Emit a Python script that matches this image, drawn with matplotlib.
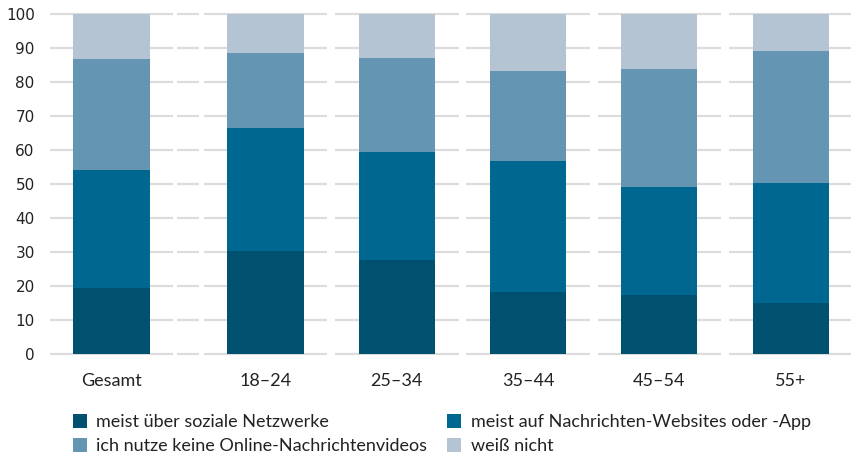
import numpy as np
import matplotlib.pyplot as plt
from matplotlib.patches import Patch

# Anteile in Prozent je Altersgruppe
categories = ['Gesamt', '18–24', '25–34', '35–44', '45–54', '55+']
soziale_netzwerke = [19.4, 30.3, 27.6, 18.1, 17.2, 14.9]
nachrichten_websites = [34.6, 36.1, 31.8, 38.6, 31.8, 35.3]
keine_videos = [32.7, 22.1, 27.6, 26.5, 34.8, 38.9]
weiss_nicht = [13.3, 11.5, 13.0, 16.8, 16.2, 10.9]

series = [soziale_netzwerke, nachrichten_websites, keine_videos, weiss_nicht]
labels = ['meist über soziale Netzwerke',
          'meist auf Nachrichten-Websites oder -App',
          'ich nutze keine Online-Nachrichtenvideos',
          'weiß nicht']
colors = ['#00516f', '#006890', '#6495b3', '#b4c4d2']

# Gesamt steht etwas abgesetzt von den Altersgruppen
spacer = 0.173
x = np.arange(len(categories)) + np.where(np.arange(len(categories)) > 0, spacer, 0)
bar_w = 0.58
gap = 0.06

fig = plt.figure(figsize=(8.51, 4.58), dpi=100)
ax = fig.add_axes([50 / 851, 1 - 353.5 / 458, 801 / 851, (353.5 - 14) / 458])

# Gitterlinien abschnittsweise pro Kategorie
segments = [(xi - 0.5 + gap / 2, xi + 0.5 - gap / 2) for xi in x]
segments.append((0.5 + gap / 2 - 0.03, 0.5 + spacer - gap / 2 + 0.03 - 0.005))
for y in range(0, 101, 10):
    for x0, x1 in segments:
        ax.plot([x0, x1], [y, y], color='#dcdcdc', lw=1.6, zorder=0,
                solid_capstyle='butt', clip_on=False)

bottom = np.zeros(len(categories))
for vals, col in zip(series, colors):
    ax.bar(x, vals, bar_w, bottom=bottom, color=col, zorder=2)
    bottom += np.array(vals)

ax.set_xlim(-0.468, 5.632)
ax.set_ylim(0, 100)
ax.set_yticks(range(0, 101, 10))
ax.set_xticks(x)
ax.set_xticklabels(categories, family='Lato', fontsize=13, color='#222222')
ax.tick_params(axis='x', length=0, pad=14)
ax.tick_params(axis='y', length=0, pad=11, labelsize=11, labelcolor='#222222')
for s in ax.spines.values():
    s.set_visible(False)

# Legende zeilenweise: zwei Spalten, matplotlib füllt spaltenweise
order = [0, 2, 1, 3]
handles = [Patch(facecolor=colors[i], edgecolor='none') for i in order]
fig.legend(handles, [labels[i] for i in order], loc='upper left',
           bbox_to_anchor=(73 / 851, 1 - 414 / 458),
           ncol=2, frameon=False, borderpad=0, borderaxespad=0,
           handlelength=0.75, handleheight=0.8, handletextpad=0.55,
           columnspacing=1.1, labelspacing=0.42,
           prop={'family': 'Lato', 'size': 13}, labelcolor='#222222')

fig.savefig('out.png', dpi=100)
